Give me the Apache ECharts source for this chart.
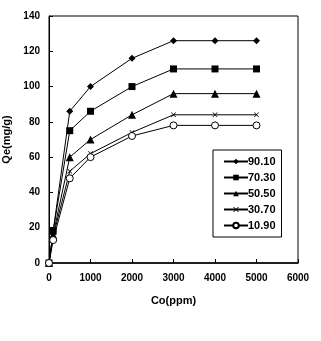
<!DOCTYPE html>
<html>
<head>
<meta charset="utf-8">
<script src="https://cdn.jsdelivr.net/npm/echarts@6/dist/echarts.min.js"></script>
<style>
  html, body { margin: 0; padding: 0; background: #fff; }
  #chart-container { width: 321px; height: 341px; }
</style>
</head>
<body>
<div id="chart-container"></div>
<script>
// concentration Co (ppm)
let coValues = [0, 100, 500, 1000, 2000, 3000, 4000, 5000];
// Qe (mg/g) per series
let seriesNames = ["90.10", "70.30", "50.50", "30.70", "10.90"];
let qe9010 = [0, 18, 86, 100, 116, 126, 126, 126];
let qe7030 = [0, 18, 75, 86, 100, 110, 110, 110];
let qe5050 = [0, 16, 60, 70, 84, 96, 96, 96];
let qe3070 = [0, 15, 52, 62, 74, 84, 84, 84];
let qe1090 = [0, 13, 48, 60, 72, 78, 78, 78];
let yTicks = [0, 20, 40, 60, 80, 100, 120, 140];
let xTicks = [0, 1000, 2000, 3000, 4000, 5000, 6000];

let dom = document.getElementById("chart-container");
let myChart = echarts.init(dom, null, {
    renderer: "canvas",
    useDirtyRect: false,
});

let crossPath = "path://M0,1L1,0L5,4L9,0L10,1L6,5L10,9L9,10L5,6L1,10L0,9L4,5Z";

let allValues = [qe9010, qe7030, qe5050, qe3070, qe1090];
let symbols = ["diamond", "rect", "triangle", crossPath, "circle"];
let sizes = [7, 7, 8, 5, 7];

function pairs(ys) {
    return coValues.map((x, i) => [x, ys[i]]);
}

let series = seriesNames.map((name, i) => ({
    name: name,
    type: "line",
    data: pairs(allValues[i]),
    symbol: symbols[i],
    symbolSize: sizes[i],
    showAllSymbol: true,
    lineStyle: { color: "#000", width: 1 },
    itemStyle: {
        color: i === 4 ? "#fff" : "#000",
        borderColor: "#000",
        borderWidth: i === 4 ? 1 : 0,
    },
    emphasis: { disabled: true },
    animation: false,
}));

let labelFont = {
    color: "#000",
    fontFamily: "Liberation Sans, Arial, sans-serif",
    fontWeight: "bold",
    fontSize: 10,
};

let option = {
    animation: false,
    grid: {
        left: 49,
        top: 16,
        right: 23,
        bottom: 78,
        containLabel: false,
        outerBoundsMode: "none",
        show: true,
        borderColor: "#000",
        borderWidth: 1,
    },
    legend: {
        data: seriesNames,
        orient: "vertical",
        left: 213,
        top: 150,
        padding: [6, 6, 6, 10],
        itemGap: 5,
        itemWidth: 24,
        itemHeight: 7,
        borderColor: "#000",
        borderWidth: 1,
        backgroundColor: "#fff",
        textStyle: {
            color: "#000",
            fontFamily: "Liberation Sans, Arial, sans-serif",
            fontWeight: "bold",
            fontSize: 11,
            padding: [0, 0, 0, -5],
        },
    },
    xAxis: {
        type: "value",
        min: xTicks[0],
        max: xTicks[xTicks.length - 1],
        interval: 1000,
        name: "Co(ppm)",
        nameLocation: "middle",
        nameGap: 32,
        nameTextStyle: Object.assign({}, labelFont, { fontSize: 11 }),
        axisLine: { lineStyle: { color: "#000", width: 1.5 } },
        axisTick: { inside: true, length: 4, lineStyle: { color: "#000" } },
        axisLabel: Object.assign({ margin: 10, formatter: (v) => String(v) }, labelFont),
        splitLine: { show: false },
    },
    yAxis: {
        type: "value",
        min: yTicks[0],
        max: yTicks[yTicks.length - 1],
        interval: 20,
        name: "Qe(mg/g)",
        nameLocation: "middle",
        nameGap: 29,
        nameRotate: 90,
        nameTextStyle: Object.assign({}, labelFont, { fontSize: 11 }),
        axisLine: { show: true, lineStyle: { color: "#000", width: 1 } },
        axisTick: { show: true, inside: true, length: 4, lineStyle: { color: "#000" } },
        axisLabel: Object.assign({ margin: 9, formatter: (v) => String(v) }, labelFont),
        splitLine: { show: false },
    },
    series: series,
};

if (option && typeof option === "object") {
    myChart.setOption(option);
}

window.addEventListener("resize", myChart.resize);
</script>
</body>
</html>
